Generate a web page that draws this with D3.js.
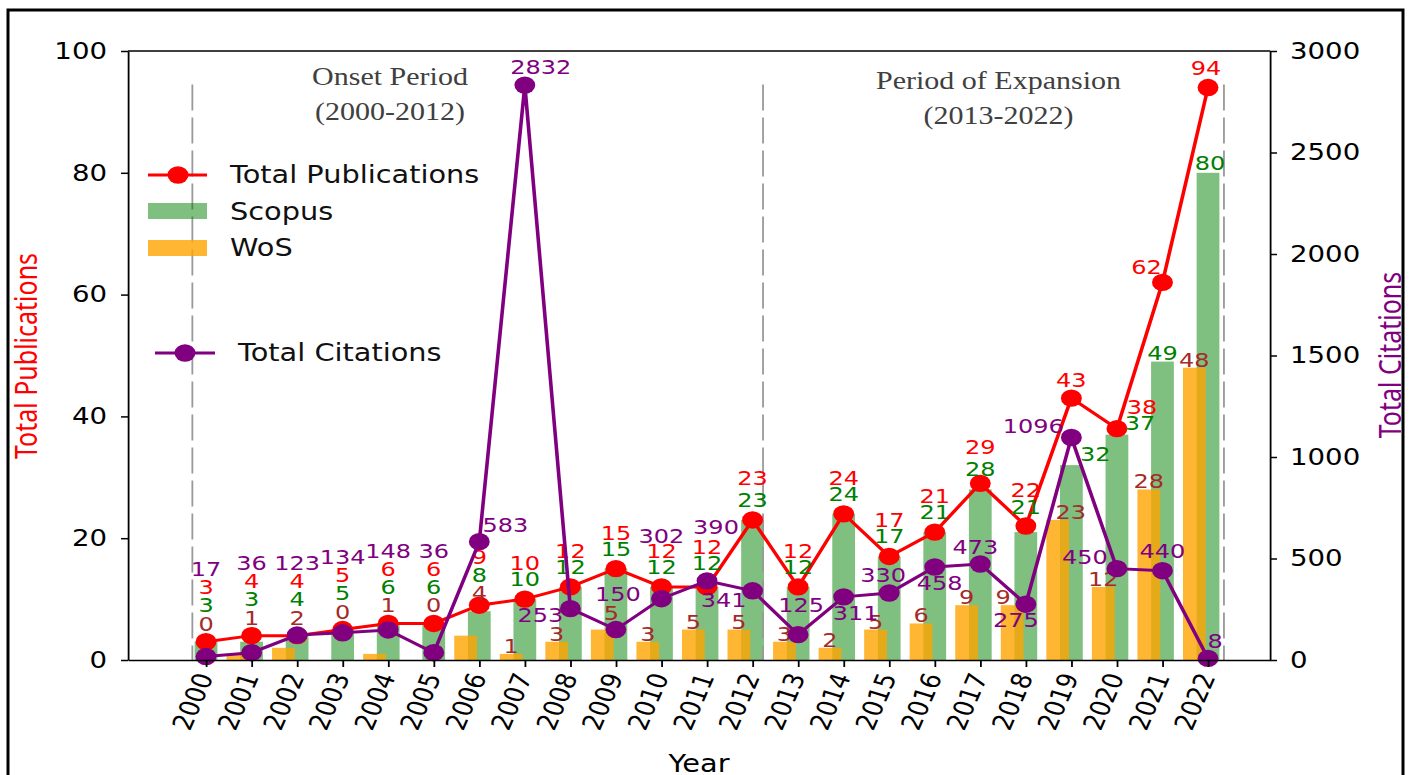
<!DOCTYPE html>
<html>
<head>
<meta charset="utf-8">
<script src="https://cdn.jsdelivr.net/npm/d3@7/dist/d3.min.js"></script>
<style>
  body { margin: 0; background: #fff; }
  svg { display: block; }
</style>
</head>
<body>
<script>
// Data.
const years = [2000, 2001, 2002, 2003, 2004, 2005, 2006, 2007, 2008, 2009, 2010, 2011,
               2012, 2013, 2014, 2015, 2016, 2017, 2018, 2019, 2020, 2021, 2022];
const scopus = [3, 3, 4, 5, 6, 6, 8, 10, 12, 15, 12, 12, 23, 12, 24, 17, 21, 28, 21, 32, 37, 49, 80];
const wos = [0, 1, 2, 0, 1, 0, 4, 1, 3, 5, 3, 5, 5, 3, 2, 5, 6, 9, 9, 23, 12, 28, 48];
const totalPubs = [3, 4, 4, 5, 6, 6, 9, 10, 12, 15, 12, 12, 23, 12, 24, 17, 21, 29, 22, 43, 38, 62, 94];
const citations = [17, 36, 123, 134, 148, 36, 583, 2832, 253, 150, 302, 390, 341, 125, 311, 330,
                   458, 473, 275, 1096, 450, 440, 8];
const leftTicks = [0, 20, 40, 60, 80, 100];
const rightTicks = [0, 500, 1000, 1500, 2000, 2500, 3000];
const periods = [
  { lines: ["Onset Period", "(2000-2012)"], at: 2004.04, y: 85 },
  { lines: ["Period of Expansion", "(2013-2022)"], at: 2017.4, y: 89 }
];
const dividers = [1999.7, 2012.23, 2022.35];

const W = 1416, H = 775;
// The source picture is stretched sideways, so everything is drawn in a
// narrower space and scaled up horizontally.
const sx = 1.2;
const ox = v => v / sx;

const svg = d3.select("body").append("svg")
  .attr("width", W)
  .attr("height", H);

svg.append("rect").attr("width", W).attr("height", H).attr("fill", "#fff");

// Outer frame round the figure.
svg.append("rect")
  .attr("x", 8).attr("y", 10)
  .attr("width", 1395).attr("height", 800)
  .attr("fill", "none")
  .attr("stroke", "#000")
  .attr("stroke-width", 3);

const g = svg.append("g").attr("transform", `scale(${sx},1)`);

const plot = { left: ox(128), right: ox(1270), top: 51, bottom: 660 };

const x = d3.scaleLinear().domain([1998.287, 2023.361]).range([plot.left, plot.right]);
const yL = d3.scaleLinear().domain([0, 100]).range([plot.bottom, plot.top]);
const yR = d3.scaleLinear().domain([0, 3000]).range([plot.bottom, plot.top]);

const rows = years.map((yr, i) => ({
  yr, scopus: scopus[i], wos: wos[i], total: totalPubs[i], cites: citations[i]
}));

const bw = x(2000.5) - x(2000);
const wosShift = 0.3;

// Scopus bars.
g.selectAll(".scopus")
  .data(rows)
  .join("rect")
  .attr("class", "scopus")
  .attr("x", d => x(d.yr) - bw / 2)
  .attr("y", d => yL(d.scopus))
  .attr("width", bw)
  .attr("height", d => yL(0) - yL(d.scopus))
  .attr("fill", "green")
  .attr("fill-opacity", 0.5);

// WoS bars, shifted left and drawn over the Scopus ones.
g.selectAll(".wos")
  .data(rows.filter(d => d.wos > 0))
  .join("rect")
  .attr("class", "wos")
  .attr("x", d => x(d.yr - wosShift) - bw / 2)
  .attr("y", d => yL(d.wos))
  .attr("width", bw)
  .attr("height", d => yL(0) - yL(d.wos))
  .attr("fill", "orange")
  .attr("fill-opacity", 0.8);

// Dashed period dividers.
g.selectAll(".divider")
  .data(dividers)
  .join("line")
  .attr("class", "divider")
  .attr("x1", d => x(d)).attr("x2", d => x(d))
  .attr("y1", yL(94.5)).attr("y2", plot.bottom)
  .attr("stroke", "#999")
  .attr("stroke-width", 1.5)
  .attr("stroke-dasharray", "26,7");

// Period captions.
periods.forEach(p => {
  g.append("text")
    .attr("x", x(p.at))
    .attr("text-anchor", "middle")
    .attr("font-family", "Liberation Serif, serif")
    .attr("font-size", 25)
    .attr("fill", "#404040")
    .selectAll("tspan")
    .data(p.lines)
    .join("tspan")
    .attr("x", x(p.at))
    .attr("y", (d, i) => p.y + i * 35)
    .text(d => d);
});

// Total publications line.
g.append("path")
  .datum(rows)
  .attr("fill", "none")
  .attr("stroke", "red")
  .attr("stroke-width", 3)
  .attr("d", d3.line().x(d => x(d.yr)).y(d => yL(d.total)));

g.selectAll(".pubDot")
  .data(rows)
  .join("circle")
  .attr("class", "pubDot")
  .attr("cx", d => x(d.yr))
  .attr("cy", d => yL(d.total))
  .attr("r", 8.7)
  .attr("fill", "red");

// Value labels. Offsets are in screen px from the mark, only where the
// default placement is not used in the figure.
const nudge = {
  total: { 2011: [0, -40], 2012: [0, -42], 2019: [0, -18], 2020: [25, -22], 2021: [-16, -15], 2022: [-2, -20] },
  scopus: { 2011: [0, -24], 2018: [0, -25], 2019: [24, -11], 2020: [23, -12], 2021: [0, -9], 2022: [2, -10] },
  wos: { 2009: [9, -17], 2018: [-9, -8], 2019: [13, -8] },
  cites: {
    2006: [26, -17], 2007: [16, -18], 2008: [-30, 6], 2009: [2, -36], 2010: [0, -63],
    2011: [9, -54], 2012: [-29, 9], 2013: [3, -30], 2014: [12, 16], 2015: [-6, -18],
    2016: [5, 16], 2017: [-5, -17], 2018: [-10, 16], 2019: [-38, -12], 2020: [-32, -12],
    2021: [0, -20], 2022: [7, -17]
  }
};
const defaults = { total: [0, -36], scopus: [0, -20], wos: [0, -8] };
const colors = { total: "red", scopus: "green", wos: "brown", cites: "#800080" };
const stackedUpTo = 2006;
const stackGap = 18.3;

const pubLabels = g.append("g");
const citeLabels = [];

function label(parent, px, py, text, color) {
  parent.append("text")
    .attr("x", px)
    .attr("y", py)
    .attr("dy", "0.35em")
    .attr("text-anchor", "middle")
    .attr("font-family", "DejaVu Sans, sans-serif")
    .attr("font-size", 20)
    .attr("fill", color)
    .text(text);
}

rows.forEach(d => {
  if (d.yr <= stackedUpTo) {
    // Early years: labels stacked above the total point.
    const base = yL(d.total) - (d.yr === stackedUpTo ? 12 : 18);
    label(pubLabels, x(d.yr), base, d.wos, colors.wos);
    label(pubLabels, x(d.yr), base - stackGap, d.scopus, colors.scopus);
    label(pubLabels, x(d.yr), base - 2 * stackGap, d.total, colors.total);
    if (!nudge.cites[d.yr]) {
      citeLabels.push([x(d.yr), base - 3 * stackGap, d.cites]);
    }
  } else {
    const [wx, wy] = nudge.wos[d.yr] || defaults.wos;
    label(pubLabels, x(d.yr - wosShift) + ox(wx), yL(d.wos) + wy, d.wos, colors.wos);
    const [sdx, sdy] = nudge.scopus[d.yr] || defaults.scopus;
    label(pubLabels, x(d.yr) + ox(sdx), yL(d.scopus) + sdy, d.scopus, colors.scopus);
    const [tdx, tdy] = nudge.total[d.yr] || defaults.total;
    label(pubLabels, x(d.yr) + ox(tdx), yL(d.total) + tdy, d.total, colors.total);
  }
  if (nudge.cites[d.yr]) {
    const [cdx, cdy] = nudge.cites[d.yr];
    citeLabels.push([x(d.yr) + ox(cdx), yR(d.cites) + cdy, d.cites]);
  }
});

// Total citations line (second axis, drawn on top).
g.append("path")
  .datum(rows)
  .attr("fill", "none")
  .attr("stroke", "#800080")
  .attr("stroke-width", 3)
  .attr("d", d3.line().x(d => x(d.yr)).y(d => yR(d.cites)));

g.selectAll(".citeDot")
  .data(rows)
  .join("circle")
  .attr("class", "citeDot")
  .attr("cx", d => x(d.yr))
  .attr("cy", d => yR(d.cites))
  .attr("r", 8.7)
  .attr("fill", "#800080");

const citeG = g.append("g");
citeLabels.forEach(([px, py, t]) => label(citeG, px, py, t, colors.cites));

// Axes.
function styleAxis(sel) {
  sel.attr("font-family", "DejaVu Sans, sans-serif").attr("font-size", 23);
  sel.selectAll("line").attr("stroke", "#000").attr("stroke-width", 1.5);
  sel.selectAll("path").attr("stroke", "#000").attr("stroke-width", 1.5);
  sel.selectAll("text").attr("fill", "#000");
}

g.append("g")
  .attr("transform", `translate(${plot.left},0)`)
  .call(d3.axisLeft(yL).tickValues(leftTicks).tickFormat(d3.format("d"))
    .tickSize(ox(7)).tickSizeOuter(0).tickPadding(ox(14)))
  .call(styleAxis);

g.append("g")
  .attr("transform", `translate(${plot.right},0)`)
  .call(d3.axisRight(yR).tickValues(rightTicks).tickFormat(d3.format("d"))
    .tickSize(ox(7)).tickSizeOuter(0).tickPadding(ox(13)))
  .call(styleAxis);

const axB = g.append("g")
  .attr("transform", `translate(0,${plot.bottom})`)
  .call(d3.axisBottom(x).tickValues(years).tickFormat(d3.format("d")).tickSize(7).tickSizeOuter(0))
  .call(styleAxis);

axB.selectAll(".tick text")
  .attr("x", 0)
  .attr("y", 0)
  .attr("dy", "0.35em")
  .attr("text-anchor", "end")
  .attr("transform", `translate(${-ox(2)},14) rotate(-70)`);

// Top spine.
g.append("line")
  .attr("x1", plot.left).attr("x2", plot.right)
  .attr("y1", plot.top).attr("y2", plot.top)
  .attr("stroke", "#000")
  .attr("stroke-width", 1.5);

// Axis titles.
g.append("text")
  .attr("x", (plot.left + plot.right) / 2)
  .attr("y", 772)
  .attr("text-anchor", "middle")
  .attr("font-family", "DejaVu Sans, sans-serif")
  .attr("font-size", 24)
  .text("Year");

g.append("text")
  .attr("transform", `translate(${ox(26)},356) rotate(-90)`)
  .attr("dy", "0.35em")
  .attr("text-anchor", "middle")
  .attr("font-family", "Noto Sans, sans-serif")
  .attr("font-size", 25)
  .attr("fill", "red")
  .text("Total Publications");

g.append("text")
  .attr("transform", `translate(${ox(1390)},355) rotate(-90)`)
  .attr("dy", "0.35em")
  .attr("text-anchor", "middle")
  .attr("font-family", "Noto Sans, sans-serif")
  .attr("font-size", 25)
  .attr("fill", "#800080")
  .text("Total Citations");

// Legends.
const legendFont = { family: "DejaVu Sans, sans-serif", size: 24 };
function legendText(px, py, t) {
  g.append("text")
    .attr("x", ox(px))
    .attr("y", py)
    .attr("dy", "0.35em")
    .attr("font-family", legendFont.family)
    .attr("font-size", legendFont.size)
    .attr("fill", "#111")
    .text(t);
}
function legendLine(x1, x2, cx, py, color) {
  g.append("line")
    .attr("x1", ox(x1)).attr("x2", ox(x2))
    .attr("y1", py).attr("y2", py)
    .attr("stroke", color)
    .attr("stroke-width", 3);
  g.append("circle").attr("cx", ox(cx)).attr("cy", py).attr("r", 8.7).attr("fill", color);
}
function legendPatch(py, color, opacity) {
  g.append("rect")
    .attr("x", ox(148)).attr("y", py - 8)
    .attr("width", ox(59)).attr("height", 16)
    .attr("fill", color)
    .attr("fill-opacity", opacity);
}

legendLine(148, 207, 178, 175, "red");
legendText(230, 175, "Total Publications");
legendPatch(211, "green", 0.5);
legendText(230, 212, "Scopus");
legendPatch(248, "orange", 0.8);
legendText(230, 248, "WoS");

legendLine(155, 215, 185, 353, "#800080");
legendText(238, 353, "Total Citations");
</script>
</body>
</html>
